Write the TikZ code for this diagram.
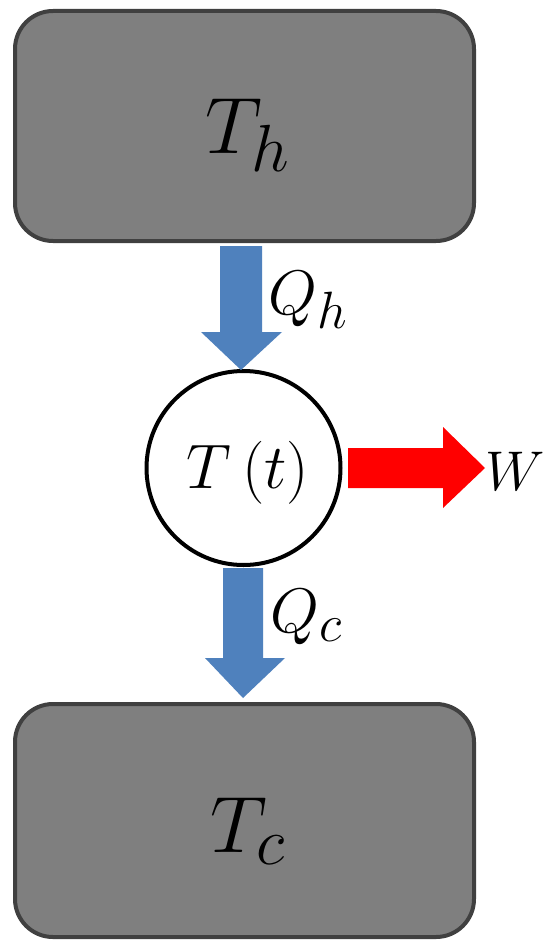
\documentclass[tikz,border=0pt]{standalone}
\definecolor{boxfill}{HTML}{7F7F7F}
\definecolor{boxline}{HTML}{404040}
\definecolor{flowblue}{HTML}{4F81BD}
\definecolor{workred}{HTML}{FF0000}
\tikzset{
  reservoir/.style={draw=boxline, fill=boxfill, line width=4pt, rounded corners=38pt,
    minimum width=459pt, inner sep=0pt},
  engine/.style={draw=black, line width=4pt, circle, minimum size=194pt, inner sep=0pt},
  bigtxt/.style={inner sep=0pt, font=\Huge, scale=3.215},
  midtxt/.style={inner sep=0pt, font=\Huge, scale=2.53},
  heatflow/.style={fill=flowblue, draw=none},
  workflow/.style={fill=workred, draw=none}
}
\begin{document}
\begin{tikzpicture}[x=1pt, y=-1pt]
\useasboundingbox (0,0) rectangle (543,942);
\fill[white] (0,0) rectangle (543,942);
% reservoirs
\node[reservoir, minimum height=230pt] (hot) at (244.5,126) {};
\node[reservoir, minimum height=233pt] (cold) at (244.5,820.5) {};
\node[bigtxt, anchor=base west] (thl) at (205,153) {$T_h$};
\node[bigtxt, anchor=base west] (tcl) at (210,852) {$T_c$};
% engine
\node[engine] (eng) at (243.5,468) {};
\node[midtxt, anchor=base] (ttl) at (248,488) {$T\,(t)$};
% heat flow arrows
\fill[heatflow] (220,246) -- (262,246) -- (262,332) -- (282,332) -- (241,370) -- (201,332) -- (220,332) -- cycle;
\fill[heatflow] (223,568) -- (263,568) -- (263,658) -- (285,658) -- (243,698) -- (205,658) -- (223,658) -- cycle;
% work arrow
\fill[workflow] (348,448) -- (443,448) -- (443,427) -- (485,468) -- (443,508) -- (443,488) -- (348,488) -- cycle;
% labels
\node[midtxt, anchor=base west] (qh) at (268,314) {$Q_h$};
\node[midtxt, anchor=base west] (qc) at (270,632) {$Q_c$};
\node[inner sep=0pt, font=\Huge, scale=2.25, anchor=base west] (wl) at (485,490) {$W$};
\end{tikzpicture}
\end{document}
